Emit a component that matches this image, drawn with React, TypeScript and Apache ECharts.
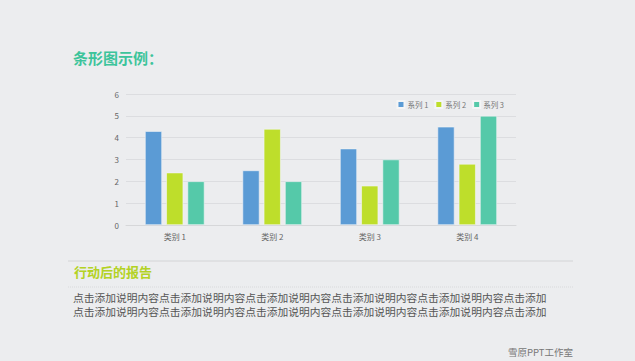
import React, { useEffect, useRef } from "react";
import * as echarts from "echarts";

const categories = ["类别 1", "类别 2", "类别 3", "类别 4"];
const seriesNames = ["系列 1", "系列 2", "系列 3"];
const series1 = [4.3, 2.5, 3.5, 4.5];
const series2 = [2.4, 4.4, 1.8, 2.8];
const series3 = [2, 2, 3, 5];
const colors = ["#5B9BD5", "#BEDE2B", "#55C9A9"];
const bodyLine = "点击添加说明内容点击添加说明内容点击添加说明内容点击添加说明内容点击添加说明内容点击添加";

export default function App() {
  const ref = useRef<HTMLDivElement>(null);
  useEffect(() => {
    if (!ref.current) return;
    const chart = echarts.init(ref.current, undefined, { renderer: "svg" });
    const font = "'Noto Sans CJK SC', 'Noto Sans', sans-serif";
    chart.setOption({
      animation: false,
      backgroundColor: "#ECEDEF",
      textStyle: { fontFamily: font },
      color: colors,
      grid: { left: 126, right: 119, top: 94, bottom: 136 },
      legend: {
        top: 95,
        right: 126,
        itemWidth: 7,
        itemHeight: 7,
        itemGap: 6,
        icon: "rect",
        textStyle: { fontSize: 7.5, color: "#777", padding: [0, 0, 0, -2] },
        data: seriesNames,
      },
      xAxis: {
        type: "category",
        data: categories,
        axisLine: { lineStyle: { color: "#D6D7D9" } },
        axisTick: { show: false },
        axisLabel: { fontSize: 8, color: "#666", margin: 7 },
      },
      yAxis: {
        type: "value",
        min: 0,
        max: 6,
        interval: 1,
        axisLine: { show: false },
        axisTick: { show: false },
        axisLabel: { fontSize: 8, color: "#666", margin: 7 },
        splitLine: { lineStyle: { color: "#DCDDE0" } },
      },
      series: [series1, series2, series3].map((d, i) => ({
        type: "bar",
        name: seriesNames[i],
        data: d,
        barWidth: 17,
        barGap: "25%",
        itemStyle: { color: colors[i], borderColor: "#F4F5F6", borderWidth: 0.6 },
      })),
      graphic: [
        {
          type: "text",
          left: 73,
          top: 50,
          style: { text: "条形图示例：", fontSize: 15, fontWeight: "bold", fill: "#3DC49B", fontFamily: font },
        },
        {
          type: "line",
          shape: { x1: 68, y1: 261, x2: 573, y2: 261 },
          style: { stroke: "#D3D4D6", lineWidth: 1 },
        },
        {
          type: "text",
          left: 74,
          top: 265,
          style: { text: "行动后的报告", fontSize: 13, fontWeight: "bold", fill: "#B3D224", fontFamily: font },
        },
        {
          type: "line",
          shape: { x1: 68, y1: 287, x2: 573, y2: 287 },
          style: { stroke: "#D8D9DB", lineWidth: 1, lineDash: [1, 1] },
        },
        {
          type: "text",
          x: 73,
          y: 291,
          scaleX: 1.026,
          style: { text: bodyLine, fontSize: 10.5, lineHeight: 14, verticalAlign: "top", fill: "#555", fontFamily: font },
        },
        {
          type: "text",
          x: 73,
          y: 305,
          scaleX: 1.026,
          style: { text: bodyLine, fontSize: 10.5, lineHeight: 14, verticalAlign: "top", fill: "#555", fontFamily: font },
        },
        {
          type: "text",
          left: 508,
          top: 347,
          style: { text: "雪原PPT工作室", fontSize: 9.5, fill: "#777", fontFamily: font },
        },
      ],
    });
    return () => chart.dispose();
  }, []);
  return (
    <div
      ref={ref}
      style={{ position: "fixed", left: 0, top: 0, width: 635, height: 361 }}
    />
  );
}
